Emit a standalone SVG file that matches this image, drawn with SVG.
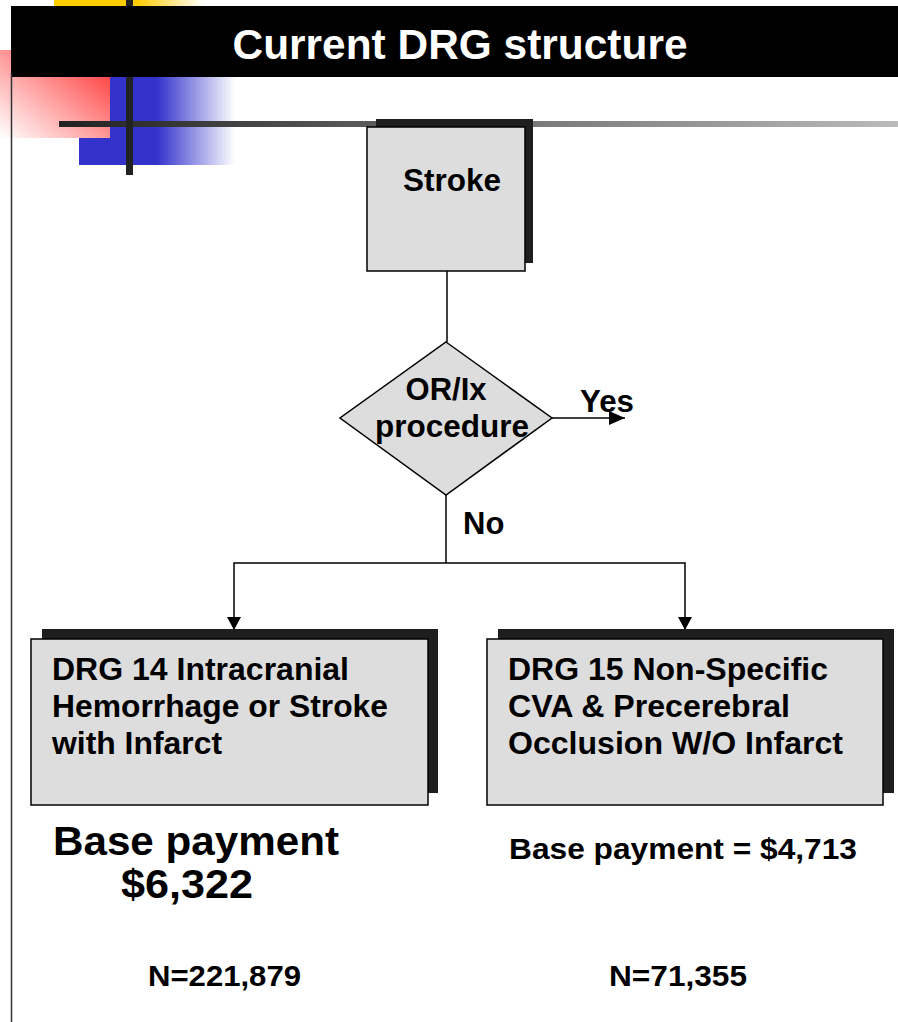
<svg xmlns="http://www.w3.org/2000/svg" width="898" height="1022" viewBox="0 0 898 1022">
  <style>
    text { font-family: "Liberation Sans", Arial, Helvetica, sans-serif; font-weight: bold; fill: #000; }
    .title { font-size: 42px; fill: #fff; }
    .box { fill: #dddddd; stroke: #000; stroke-width: 1.5; }
    .shadow { fill: #1e1e1e; }
    .lbl { font-size: 31px; }
    .wire { fill: none; stroke: #000; stroke-width: 1.5; }
  </style>
  <defs>
    <linearGradient id="yellowFade" x1="0" y1="0" x2="1" y2="0">
      <stop offset="0" stop-color="#ffcc00"/>
      <stop offset="0.55" stop-color="#ffcc00"/>
      <stop offset="1" stop-color="#ffcc00" stop-opacity="0"/>
    </linearGradient>
    <linearGradient id="blueFade" x1="0" y1="0" x2="1" y2="0">
      <stop offset="0" stop-color="#3333cc"/>
      <stop offset="0.5" stop-color="#3333cc"/>
      <stop offset="1" stop-color="#3333cc" stop-opacity="0"/>
    </linearGradient>
    <linearGradient id="redFade" x1="1" y1="0" x2="0" y2="1">
      <stop offset="0.1" stop-color="#ff3b3b"/>
      <stop offset="1" stop-color="#ff4d4d" stop-opacity="0"/>
    </linearGradient>
    <linearGradient id="railFade" x1="0" y1="0" x2="1" y2="0">
      <stop offset="0" stop-color="#222222"/>
      <stop offset="1" stop-color="#bbbbbb"/>
    </linearGradient>
    <marker id="arrow" viewBox="0 0 16 14" refX="16" refY="7" markerWidth="16" markerHeight="14" markerUnits="userSpaceOnUse" orient="auto">
      <path d="M0,0 L16,7 L0,14 z" fill="#000"/>
    </marker>
  </defs>

  <!-- slide decoration -->
  <g id="decor">
    <rect x="54" y="0" width="150" height="7" fill="url(#yellowFade)"/>
    <rect x="79" y="77" width="156" height="88" fill="url(#blueFade)"/>
    <rect x="0" y="50" width="110" height="88" fill="#fff"/>
    <rect x="0" y="50" width="110" height="88" fill="url(#redFade)"/>
    <rect x="59" y="121" width="839" height="6" fill="url(#railFade)"/>
    <rect x="126" y="0" width="7" height="175" fill="#222"/>
    <rect x="11" y="6" width="887" height="71" fill="#000"/>
    <line x1="11.5" y1="73" x2="11.5" y2="1022" stroke="#333" stroke-width="1.5"/>
    <text class="title" x="460" y="59" text-anchor="middle" textLength="455" lengthAdjust="spacingAndGlyphs">Current DRG structure</text>
  </g>

  <!-- connectors -->
  <g id="connectors">
    <line class="wire" x1="447" y1="271" x2="447" y2="342"/>
    <line class="wire" x1="552" y1="418" x2="625" y2="418" marker-end="url(#arrow)"/>
    <line class="wire" x1="446" y1="495" x2="446" y2="563"/>
    <polyline class="wire" points="234,630 234,563 685,563 685,630"/>
    <path d="M227,617 L241,617 L234,630 z" fill="#000"/>
    <path d="M678,617 L692,617 L685,630 z" fill="#000"/>
    <text class="lbl" x="580" y="412" textLength="54" lengthAdjust="spacingAndGlyphs">Yes</text>
    <text class="lbl" x="463" y="534">No</text>
  </g>

  <g id="node-stroke">
    <rect class="shadow" x="376" y="119" width="157" height="144"/>
    <rect class="box" x="367" y="127" width="158" height="144"/>
    <text class="lbl" x="452" y="191" text-anchor="middle" textLength="98" lengthAdjust="spacingAndGlyphs">Stroke</text>
  </g>

  <g id="node-decision">
    <polygon class="box" points="446,342 552,418 446,495 340,418"/>
    <text class="lbl" x="446" y="400" text-anchor="middle">OR/Ix</text>
    <text class="lbl" x="452" y="437" text-anchor="middle" textLength="154" lengthAdjust="spacingAndGlyphs">procedure</text>
  </g>

  <g id="node-drg14">
    <rect class="shadow" x="42" y="629" width="396" height="164"/>
    <rect class="box" x="31" y="639" width="397" height="166"/>
    <text class="lbl" x="52" y="680" textLength="297" lengthAdjust="spacingAndGlyphs">DRG 14 Intracranial</text>
    <text class="lbl" x="52" y="717" textLength="336" lengthAdjust="spacingAndGlyphs">Hemorrhage or Stroke</text>
    <text class="lbl" x="52" y="754" textLength="170" lengthAdjust="spacingAndGlyphs">with Infarct</text>
  </g>

  <g id="node-drg15">
    <rect class="shadow" x="498" y="629" width="396" height="164"/>
    <rect class="box" x="487" y="639" width="396" height="166"/>
    <text class="lbl" x="508" y="680" textLength="320" lengthAdjust="spacingAndGlyphs">DRG 15 Non-Specific</text>
    <text class="lbl" x="508" y="717" textLength="282" lengthAdjust="spacingAndGlyphs">CVA &amp; Precerebral</text>
    <text class="lbl" x="508" y="754" textLength="335" lengthAdjust="spacingAndGlyphs">Occlusion W/O Infarct</text>
  </g>

  <g id="notes">
    <text x="53" y="855" font-size="40" textLength="286" lengthAdjust="spacingAndGlyphs">Base payment</text>
    <text x="121" y="898" font-size="40" textLength="132" lengthAdjust="spacingAndGlyphs">$6,322</text>
    <text x="509" y="859" font-size="29" textLength="348" lengthAdjust="spacingAndGlyphs">Base payment = $4,713</text>
    <text x="148" y="986" font-size="29" textLength="153" lengthAdjust="spacingAndGlyphs">N=221,879</text>
    <text x="609" y="986" font-size="29" textLength="138" lengthAdjust="spacingAndGlyphs">N=71,355</text>
  </g>
</svg>
